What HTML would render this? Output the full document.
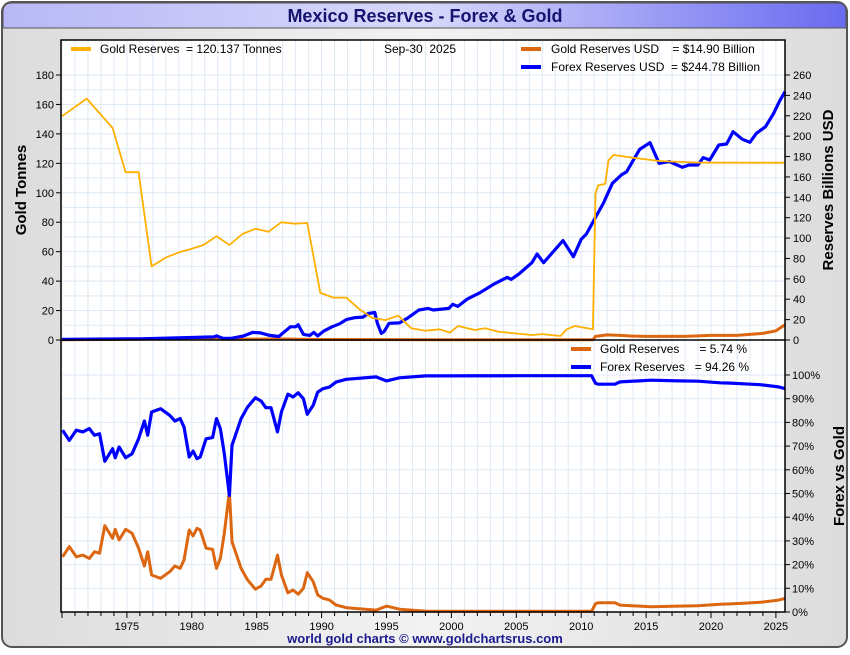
<!DOCTYPE html>
<html><head><meta charset="utf-8">
<style>
html,body{margin:0;padding:0;background:#fff;}
body{width:850px;height:650px;overflow:hidden;font-family:"Liberation Sans",sans-serif;}
.pre{white-space:pre;}
</style></head>
<body>
<svg id="chart" width="850" height="650" xmlns="http://www.w3.org/2000/svg" font-family="Liberation Sans, sans-serif">
<defs>
<linearGradient id="tg" x1="0" x2="1" y1="0" y2="0"><stop offset="0" stop-color="#b8b8f6"/><stop offset="0.5" stop-color="#d8d8fb"/><stop offset="1" stop-color="#6a6af0"/></linearGradient>
<linearGradient id="bg" x1="0" x2="1" y1="0" y2="0"><stop offset="0" stop-color="#dcdcdc"/><stop offset="0.5" stop-color="#f2f2f2"/><stop offset="1" stop-color="#dcdcdc"/></linearGradient>
</defs>
<rect x="0" y="0" width="850" height="650" fill="#ffffff"/>
<rect x="2" y="2" width="845" height="645" rx="10" fill="url(#bg)" stroke="#555" stroke-width="2"/>
<path d="M3,28 L3,12 Q3,3 12,3 L838,3 Q846,3 846,12 L846,28 Z" fill="url(#tg)" stroke="#555" stroke-width="1"/>
<text x="425" y="22" text-anchor="middle" font-size="18" font-weight="bold" fill="#14146e">Mexico Reserves - Forex &amp; Gold</text>
<rect x="61" y="40" width="724" height="572" fill="#fff"/>
<g id="grid"></g>
<g id="series"></g>
<g id="axes"></g>
<text transform="translate(26,190) rotate(-90)" text-anchor="middle" font-size="15" font-weight="bold" fill="#000">Gold Tonnes</text>
<text transform="translate(833,190) rotate(-90)" text-anchor="middle" font-size="15" font-weight="bold" fill="#000">Reserves Billions USD</text>
<text transform="translate(844,476) rotate(-90)" text-anchor="middle" font-size="15" font-weight="bold" fill="#000">Forex vs Gold</text>
<g font-size="12" fill="#000">
<rect x="71" y="47" width="20" height="4" fill="#ffb000"/>
<text class="pre" x="100" y="53">Gold Reserves  = 120.137 Tonnes</text>
<text class="pre" x="384" y="53">Sep-30  2025</text>
<rect x="521" y="47" width="20" height="4" fill="#dd6611"/>
<text class="pre" x="551" y="53">Gold Reserves USD    = $14.90 Billion</text>
<rect x="521" y="65" width="20" height="4" fill="#0000ff"/>
<text class="pre" x="551" y="71">Forex Reserves USD  = $244.78 Billion</text>
</g>
<g font-size="12" fill="#000">
<rect x="571" y="347" width="20" height="4" fill="#dd6611"/>
<text class="pre" x="600" y="353">Gold Reserves      = 5.74 %</text>
<rect x="571" y="365" width="20" height="4" fill="#0000ff"/>
<text class="pre" x="600" y="371">Forex Reserves   = 94.26 %</text>
</g>
<text x="425" y="643" text-anchor="middle" font-size="13" font-weight="bold" fill="#1a1a8e">world gold charts © www.goldchartsrus.com</text>
</svg>
<script>
// ---- data ----
const goldYears=[1970.0,1971.9,1973.9,1974.9,1975.9,1976.9,1978.0,1979.0,1980.0,1980.9,1981.9,1982.9,1983.9,1984.9,1985.9,1986.9,1987.9,1988.9,1989.9,1990.9,1991.9,1992.9,1993.9,1994.9,1995.9,1996.9,1998.0,1999.1,1999.9,2000.5,2001.8,2002.6,2003.6,2004.9,2006.2,2007.0,2008.4,2008.9,2009.5,2010.9,2011.1,2011.3,2011.85,2012.1,2012.5,2013.9,2016.0,2019.0,2025.7];
const goldTonnes=[152,164,144,114,114,50,56,59.5,62,64.5,70.5,64.5,72,75.5,73.5,80,79,79.5,32,28.8,28.8,21,15,13.5,16.5,8,6.3,7.3,5,9.5,6.8,8,5.7,4.5,3.4,4,2.7,7.3,9.5,7.3,99.6,105,106,122,125.7,123.9,121.6,120.5,120.4];
const forexYears=[1970,1976,1980,1981.7,1981.9,1982.4,1983,1984,1984.7,1985.3,1986,1986.7,1987.6,1988,1988.2,1988.6,1989.1,1989.4,1989.7,1990.2,1990.8,1991.4,1991.9,1992.6,1993.2,1993.6,1994.1,1994.3,1994.6,1994.8,1995.2,1996,1996.6,1997.5,1998.2,1998.6,1999.8,2000.1,2000.5,2001.2,2002.2,2003.3,2004.3,2004.6,2005.2,2006.2,2006.6,2007.1,2008.6,2009.4,2010,2010.4,2011.2,2011.7,2012.4,2013.1,2013.5,2014.5,2015.3,2016,2016.8,2017.8,2018.3,2019,2019.4,2019.9,2020.6,2021.2,2021.7,2022.4,2023,2023.5,2024.2,2024.8,2025.3,2025.7];
const forexBillions=[0.7,1.2,2.5,3,4,1.6,1.6,4,7.5,7,4.5,3.4,13,13,15,5.5,4.5,7.5,4,9,13,16,20,22,22.5,26,27,16.4,6.5,8,16.4,16.8,21.3,29.4,31,29.4,31,35,33,40,46.4,55,61.5,59.5,64.8,75.8,84.4,75.8,97.5,81.7,98.8,104,122.6,134,153.7,162,165,187,193.6,173.4,175,169.4,171.7,171.7,179,176.6,191.3,192.3,204.4,197,194,202.8,209.3,221.7,234.8,243.6];
const goldUsdYears=[1970,1975,1980,1983,1987,1990,2000,2010.9,2011.1,2012,2013,2014,2015,2018,2020,2022,2024,2025,2025.7];
const goldUsdBillions=[0.3,0.6,1.5,0.8,1,0.5,0.3,0.3,3.5,5,4.5,3.8,3.5,3.5,4.5,4.5,6.5,9,14.9];
const pctYears=[1970.05,1970.56,1971.1,1971.6,1972.1,1972.5,1972.9,1973.3,1973.9,1974.1,1974.4,1974.9,1975.4,1975.9,1976.35,1976.6,1976.9,1977.6,1978.3,1978.7,1979.1,1979.4,1979.8,1980.1,1980.4,1980.65,1981.1,1981.6,1981.9,1982.2,1982.5,1982.9,1983.1,1983.8,1984.3,1984.9,1985.35,1985.7,1986.1,1986.6,1986.9,1987.4,1987.8,1988.2,1988.6,1988.9,1989.35,1989.7,1990.1,1990.6,1991.1,1991.9,1994.2,1995,1996,1998,2005,2010.8,2011.1,2011.3,2012.6,2013,2015.4,2017.5,2019,2020.7,2021.5,2022.5,2023.8,2025.2,2025.7];
const goldPct=[23.3,27.6,23.3,24,22.6,25.4,24.8,36.4,31.1,34.9,30.4,34.9,33.2,26.9,19.4,25.4,15.6,14.2,17,19.4,18.4,21.9,34.6,32.1,35.3,34.6,26.9,26.4,18.4,22.7,33.2,50.8,29.7,18.4,13.5,9.6,11,13.8,13.8,24,15.6,8.1,9.3,7.5,10,16.6,12.8,7.2,5.8,5.1,3,1.8,0.8,2.5,1.2,0.4,0.3,0.3,3.5,3.9,3.9,2.9,2.2,2.5,2.6,3.3,3.4,3.7,4.1,5.0,5.74];
const forexPct=[76.7,72.4,76.7,76,77.4,74.6,75.2,63.6,68.9,65.1,69.6,65.1,66.8,73.1,80.6,74.6,84.4,85.8,83,80.6,81.6,78.1,65.4,67.9,64.7,65.4,73.1,73.6,81.6,77.3,66.8,49.2,70.3,81.6,86.5,90.4,89,86.2,86.2,76,84.4,91.9,90.7,92.5,90,83.4,87.2,92.8,94.2,94.9,97,98.2,99.2,97.5,98.8,99.6,99.7,99.7,96.5,96.1,96.1,97.1,97.8,97.5,97.4,96.7,96.6,96.3,95.9,95.0,94.26];
const leftTicks=[0,20,40,60,80,100,120,140,160,180];
const rightTicks=[0,20,40,60,80,100,120,140,160,180,200,220,240,260];
const pctTicks=[0,10,20,30,40,50,60,70,80,90,100];
const yearLabels=[1975,1980,1985,1990,1995,2000,2005,2010,2015,2020,2025];

// ---- scales ----
const X0=61,X1=785,TOP=40,MID=340,BOT=612;
const xs=y=>62+(y-1970)*12.98;
const yT=v=>MID-v*(265/180);
const yR=v=>MID-v*(265/260);
const yP=v=>BOT-v*2.37;
const NS='http://www.w3.org/2000/svg';
function mk(tag,attrs,parent){const e=document.createElementNS(NS,tag);for(const k in attrs)e.setAttribute(k,attrs[k]);parent.appendChild(e);return e;}
const grid=document.getElementById('grid'),series=document.getElementById('series'),axes=document.getElementById('axes');

for(let yr=1970;yr<=2025;yr++){const x=xs(yr);const l=mk('line',{x1:x,x2:x,y1:TOP,y2:BOT,stroke:'#dde9f4','stroke-width':1},grid);

}
for(let v=10;v<=180;v+=10){const y=yT(v);const l=mk('line',{x1:X0,x2:X1,y1:y,y2:y,stroke:'#dde9f4','stroke-width':1},grid);

}
for(let v=10;v<=100;v+=10){const y=yP(v);const l=mk('line',{x1:X0,x2:X1,y1:y,y2:y,stroke:'#dde9f4','stroke-width':1},grid);

}

function line(xsArr,ysArr,fy,color,w,name){
  const pts=xsArr.map((x,i)=>xs(x).toFixed(1)+','+fy(ysArr[i]).toFixed(1)).join(' ');
  const p=mk('polyline',{points:pts,fill:'none',stroke:color,'stroke-width':w,'stroke-linejoin':'round'},series);
  
  
}
line(goldUsdYears,goldUsdBillions,yR,'#dd6611',3,'gold-usd-line');
line(forexYears,forexBillions,yR,'#0000ff',3.2,'forex-usd-line');
line(goldYears,goldTonnes,yT,'#ffb000',1.8,'gold-tonnes-line');
line(pctYears,goldPct,yP,'#dd6611',3,'gold-pct-line');
line(pctYears,forexPct,yP,'#0000ff',3.2,'forex-pct-line');

const fr=mk('rect',{x:X0,y:TOP,width:X1-X0,height:BOT-TOP,fill:'none',stroke:'#000','stroke-width':1.5},axes);


const dv=mk('line',{x1:X0,x2:X1,y1:MID,y2:MID,stroke:'#000','stroke-width':1.5},axes);



leftTicks.forEach(v=>{const y=yT(v);mk('line',{x1:X0-5,x2:X0,y1:y,y2:y,stroke:'#000'},axes);
const t=mk('text',{x:X0-7,y:y+4,'text-anchor':'end','font-size':11},axes);t.textContent=v;

});
rightTicks.forEach(v=>{const y=yR(v);mk('line',{x1:X1,x2:X1+5,y1:y,y2:y,stroke:'#000'},axes);
const t=mk('text',{x:X1+8,y:y+4,'font-size':11},axes);t.textContent=v;

});
pctTicks.forEach(v=>{const y=yP(v);mk('line',{x1:X1,x2:X1+5,y1:y,y2:y,stroke:'#000'},axes);
const t=mk('text',{x:X1+7,y:y+4,'font-size':11},axes);t.textContent=v+'%';

});
for(let yr=1970;yr<=2025;yr++){const x=xs(yr);mk('line',{x1:x,x2:x,y1:BOT,y2:BOT+(yr%5==0?6:4),stroke:'#000'},axes);}
yearLabels.forEach(yr=>{const t=mk('text',{x:xs(yr),y:BOT+18,'text-anchor':'middle','font-size':11},axes);t.textContent=yr;

});
</script>
</body></html>
